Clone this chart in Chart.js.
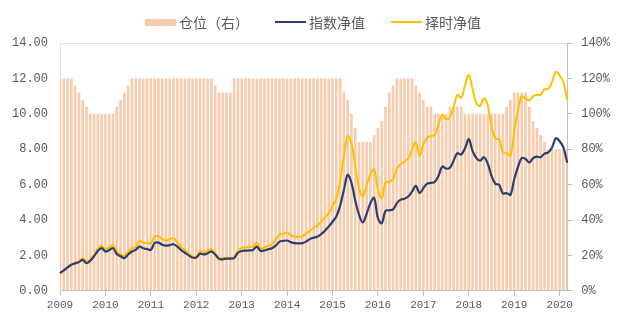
<!DOCTYPE html>
<html>
<head>
<meta charset="utf-8">
<script src="https://cdn.jsdelivr.net/npm/chart.js@4.4.0/dist/chart.umd.min.js"></script>
<style>
  html, body { margin: 0; padding: 0; background: #ffffff; }
</style>
</head>
<body>
<canvas id="navChart" width="624" height="333"></canvas>
<script>
// monthly categories, Jan 2009 .. Mar 2020
const years = [2009, 2010, 2011, 2012, 2013, 2014, 2015, 2016, 2017, 2018, 2019, 2020];
const monthCount = 135;
const months = [];
for (let i = 0; i < monthCount; i++) {
  const y = years[Math.floor(i / 12)];
  const m = (i % 12) + 1;
  months.push(`${y}-${m < 10 ? "0" + m : m}`);
}

const seriesNames = ["仓位（右）", "指数净值", "择时净值"];

// position, % (right axis)
const position = [
  120, 120, 120, 120, 116, 112, 108, 104, 100, 100, 100, 100,
  100, 100, 100, 104, 108, 112, 116, 120, 120, 120, 120, 120,
  120, 120, 120, 120, 120, 120, 120, 120, 120, 120, 120, 120,
  120, 120, 120, 120, 120, 116, 112, 112, 112, 112, 120, 120,
  120, 120, 120, 120, 120, 120, 120, 120, 120, 120, 120, 120,
  120, 120, 120, 120, 120, 120, 120, 120, 120, 120, 120, 120,
  120, 120, 120, 112, 108, 100, 92, 84, 84, 84, 84, 88,
  92, 96, 104, 112, 116, 120, 120, 120, 120, 120, 116, 112,
  108, 104, 104, 100, 100, 100, 100, 104, 104, 104, 104, 100,
  100, 100, 100, 100, 100, 100, 100, 100, 100, 100, 104, 108,
  112, 112, 112, 112, 104, 96, 92, 88, 84, 80, 80, 80,
  80, 80, 80
];

// index net value
const indexNav = [
  1.00, 1.15, 1.32, 1.47, 1.55, 1.62, 1.75, 1.56, 1.70, 1.95, 2.25, 2.41,
  2.22, 2.30, 2.41, 2.08, 1.95, 1.85, 2.05, 2.22, 2.31, 2.50, 2.40, 2.36,
  2.31, 2.70, 2.72, 2.60, 2.55, 2.58, 2.63, 2.50, 2.30, 2.15, 2.00, 1.88,
  1.88, 2.10, 2.05, 2.12, 2.22, 2.05, 1.80, 1.78, 1.82, 1.82, 1.85, 2.15,
  2.25, 2.27, 2.28, 2.31, 2.50, 2.25, 2.28, 2.35, 2.41, 2.55, 2.78, 2.82,
  2.84, 2.75, 2.69, 2.68, 2.69, 2.78, 2.92, 3.00, 3.06, 3.20, 3.40, 3.63,
  3.90, 4.20, 4.80, 5.70, 6.55, 6.10, 5.10, 4.30, 3.86, 4.35, 4.95, 5.25,
  4.10, 3.82, 4.52, 4.55, 4.60, 4.95, 5.15, 5.20, 5.33, 5.60, 5.93, 5.52,
  5.80, 6.05, 6.10, 6.15, 6.50, 7.02, 6.90, 6.95, 7.35, 7.78, 7.70, 8.05,
  8.57, 7.90, 7.50, 7.35, 7.55, 7.20, 6.50, 6.05, 5.99, 5.50, 5.52, 5.42,
  6.30, 7.00, 7.50, 7.45, 7.25, 7.50, 7.58, 7.55, 7.75, 7.82, 8.10, 8.62,
  8.45, 8.10, 7.24
];

// timing strategy net value
const timingNav = [
  1.00, 1.15, 1.32, 1.47, 1.58, 1.68, 1.85, 1.65, 1.80, 2.05, 2.38, 2.54,
  2.35, 2.45, 2.60, 2.22, 2.05, 1.98, 2.20, 2.41, 2.46, 2.82, 2.72, 2.70,
  2.69, 3.05, 3.08, 2.92, 2.84, 2.92, 2.97, 2.75, 2.48, 2.30, 2.12, 1.90,
  1.92, 2.24, 2.16, 2.25, 2.35, 2.10, 1.85, 1.85, 1.88, 1.86, 1.90, 2.25,
  2.41, 2.45, 2.48, 2.50, 2.73, 2.35, 2.45, 2.55, 2.60, 2.90, 3.16, 3.22,
  3.29, 3.15, 3.07, 3.05, 3.07, 3.25, 3.40, 3.55, 3.68, 3.90, 4.15, 4.39,
  4.80, 5.20, 6.20, 7.60, 8.75, 8.35, 7.00, 5.80, 5.33, 5.95, 6.60, 6.85,
  5.70, 5.23, 6.12, 6.15, 6.30, 6.90, 7.15, 7.30, 7.49, 8.00, 8.38, 7.62,
  8.30, 8.65, 8.75, 8.80, 9.40, 9.94, 9.70, 9.80, 10.40, 11.07, 10.90, 11.60,
  12.20, 11.40, 10.60, 10.45, 10.88, 10.50, 9.30, 8.60, 8.57, 7.85, 7.78, 7.62,
  9.00, 10.20, 11.00, 10.85, 10.75, 11.00, 11.07, 11.07, 11.40, 11.40, 11.80, 12.38,
  12.15, 11.80, 10.78
];

const leftTicks = [0, 2, 4, 6, 8, 10, 12, 14];
const rightTicks = [0, 20, 40, 60, 80, 100, 120, 140];

const axisGray = "#bfbfbf";
const labelGray = "#595959";
const tickFont = { family: "'Liberation Mono', monospace", size: 12 };

// top border of plot area
const plotFrame = {
  id: "plotFrame",
  beforeDatasetsDraw(chart) {
    const { ctx, chartArea } = chart;
    ctx.save();
    ctx.strokeStyle = "#e4e4e4";
    ctx.lineWidth = 1;
    ctx.beginPath();
    ctx.moveTo(chartArea.left, chartArea.top + 0.5);
    ctx.lineTo(chartArea.right, chartArea.top + 0.5);
    ctx.stroke();
    ctx.restore();
  }
};

// legend drawn at the top, centred
const topLegend = {
  id: "topLegend",
  afterDraw(chart) {
    const ctx = chart.ctx;
    const swatch = 31, gap = 3, spacing = 26, y = 22;
    ctx.save();
    ctx.font = "14px 'Noto Sans CJK SC'";
    ctx.textBaseline = "middle";
    const ds = chart.data.datasets;
    const widths = ds.map(d => swatch + gap + ctx.measureText(d.label).width);
    const total = widths.reduce((a, b) => a + b, 0) + spacing * (ds.length - 1);
    let x = 313 - total / 2;
    ds.forEach((d, i) => {
      if (d.type === "bar") {
        ctx.fillStyle = d.backgroundColor;
        ctx.fillRect(x, y - 3, swatch, 7);
      } else {
        ctx.strokeStyle = d.borderColor;
        ctx.lineWidth = 2;
        ctx.beginPath();
        ctx.moveTo(x, y);
        ctx.lineTo(x + swatch, y);
        ctx.stroke();
      }
      ctx.fillStyle = labelGray;
      ctx.fillText(d.label, x + swatch + gap, y + 1);
      x += widths[i] + spacing;
    });
    ctx.restore();
  }
};

const ctx = document.getElementById("navChart").getContext("2d");

let navChart = new Chart(ctx, {
  type: "bar",
  data: {
    labels: months,
    datasets: [
      {
        type: "bar",
        label: seriesNames[0],
        data: position,
        yAxisID: "y1",
        backgroundColor: "#f8cbad",
        barPercentage: 0.7,
        categoryPercentage: 1,
        order: 3
      },
      {
        type: "line",
        label: seriesNames[1],
        data: indexNav,
        yAxisID: "y",
        borderColor: "#2b3f73",
        borderWidth: 2.2,
        pointRadius: 0,
        tension: 0.35,
        order: 1
      },
      {
        type: "line",
        label: seriesNames[2],
        data: timingNav,
        yAxisID: "y",
        borderColor: "#ffc000",
        borderWidth: 2,
        pointRadius: 0,
        tension: 0.35,
        order: 2
      }
    ]
  },
  options: {
    responsive: false,
    animation: false,
    layout: { padding: { left: 0, right: 5, top: 43, bottom: 18 } },
    plugins: {
      legend: { display: false },
      tooltip: { enabled: false }
    },
    scales: {
      x: {
        type: "category",
        offset: false,
        grid: { offset: false, drawOnChartArea: false, drawTicks: true, tickLength: 5, color: axisGray },
        border: { color: axisGray },
        afterBuildTicks: axis => {
          axis.ticks = axis.ticks.filter(t => t.value % 12 === 0);
        },
        ticks: {
          autoSkip: false,
          maxRotation: 0,
          padding: 3,
          color: labelGray,
          font: { family: "'Liberation Mono', monospace", size: 11 },
          callback: function (value) {
            return this.getLabelForValue(value).slice(0, 4);
          }
        }
      },
      y: {
        position: "left",
        min: leftTicks[0],
        max: leftTicks[leftTicks.length - 1],
        afterBuildTicks: axis => {
          axis.ticks = leftTicks.map(v => ({ value: v }));
        },
        grid: { drawOnChartArea: false, drawTicks: false },
        border: { color: "#e4e4e4" },
        ticks: {
          padding: 12,
          color: labelGray,
          font: tickFont,
          callback: v => v.toFixed(2)
        }
      },
      y1: {
        position: "right",
        min: rightTicks[0],
        max: rightTicks[rightTicks.length - 1],
        afterBuildTicks: axis => {
          axis.ticks = rightTicks.map(v => ({ value: v }));
        },
        grid: { drawOnChartArea: false, drawTicks: true, tickLength: 5, color: axisGray },
        border: { color: axisGray },
        ticks: {
          padding: 9,
          color: labelGray,
          font: tickFont,
          callback: v => v + "%"
        }
      }
    }
  },
  plugins: [plotFrame, topLegend]
});
</script>
</body>
</html>
